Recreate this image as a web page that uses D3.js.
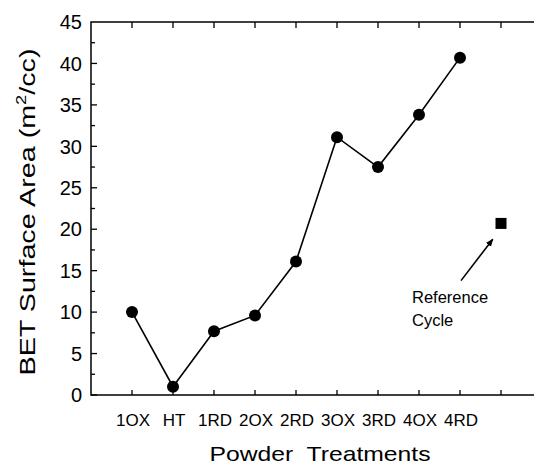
<!DOCTYPE html>
<html>
<head>
<meta charset="utf-8">
<script src="https://cdn.jsdelivr.net/npm/d3@7"></script>
<style>
  body { margin: 0; background: #fff; }
  text { font-family: "Liberation Sans", Arial, sans-serif; fill: #000; }
</style>
</head>
<body>
<div id="viz"></div>
<script>
// data
var treatments = ["1OX", "HT", "1RD", "2OX", "2RD", "3OX", "3RD", "4OX", "4RD"];
var surfaceArea = [10.0, 1.0, 7.7, 9.6, 16.1, 31.1, 27.5, 33.8, 40.7];
var refCycle = [20.7];            // the lone square, at the 10th slot
var yTicks = [0, 5, 10, 15, 20, 25, 30, 35, 40, 45];

var width = 534, height = 466;

var svg = d3.select("#viz").append("svg")
  .attr("width", width)
  .attr("height", height);

// slot -1 is the left axis, slot 10 sits just past the right edge
var x = d3.scaleLinear().domain([-1, 10]).range([91, 542]);
var y = d3.scaleLinear().domain([0, 45]).range([395, 22]);

// frame
svg.append("rect")
  .attr("x", x(-1)).attr("y", y(45))
  .attr("width", x(10) - x(-1)).attr("height", y(0) - y(45))
  .attr("fill", "none").attr("stroke", "#000").attr("stroke-width", 1.5);

// y ticks, inward, with a minor tick between labels
var yMinor = d3.range(0, 45, 2.5);
svg.selectAll(".ytick")
  .data(yMinor)
  .join("line")
  .attr("x1", x(-1))
  .attr("x2", d => x(-1) + (d % 5 === 0 ? 6 : 4))
  .attr("y1", d => y(d)).attr("y2", d => y(d))
  .attr("stroke", "#000").attr("stroke-width", 1.3);

svg.selectAll(".ylab")
  .data(yTicks)
  .join("text")
  .attr("x", 82)
  .attr("y", d => y(d))
  .attr("dy", "0.36em")
  .attr("text-anchor", "end")
  .style("font-size", "20px")
  .text(d => d);

// x ticks on top and bottom, pointing in
var slots = d3.range(0, 10);
svg.selectAll(".xb")
  .data(slots)
  .join("line")
  .attr("x1", d => x(d)).attr("x2", d => x(d))
  .attr("y1", y(0)).attr("y2", y(0) - 5)
  .attr("stroke", "#000").attr("stroke-width", 1.3);
svg.selectAll(".xt")
  .data(slots)
  .join("line")
  .attr("x1", d => x(d)).attr("x2", d => x(d))
  .attr("y1", y(45)).attr("y2", y(45) + 6)
  .attr("stroke", "#000").attr("stroke-width", 1.3);

svg.selectAll(".xlab")
  .data(treatments)
  .join("text")
  .attr("x", (d, i) => x(i) + 1)
  .attr("y", 426)
  .attr("text-anchor", "middle")
  .style("font-size", "17px")
  .text(d => d);

// axis titles
svg.append("text")
  .attr("x", 320).attr("y", 461)
  .attr("text-anchor", "middle")
  .attr("textLength", 221).attr("lengthAdjust", "spacingAndGlyphs")
  .style("font-size", "21px")
  .style("white-space", "pre")
  .text("Powder  Treatments");

var yt = svg.append("text")
  .attr("transform", "translate(35,212) rotate(-90)")
  .attr("text-anchor", "middle")
  .attr("textLength", 327).attr("lengthAdjust", "spacingAndGlyphs")
  .style("font-size", "22px");
yt.append("tspan").text("BET Surface Area (m");
yt.append("tspan").attr("dy", -9).style("font-size", "14px").text("2");
yt.append("tspan").attr("dy", 9).text("/cc)");

// line + markers
var line = d3.line()
  .x((d, i) => x(i))
  .y(d => y(d));

svg.append("path")
  .datum(surfaceArea)
  .attr("d", line)
  .attr("fill", "none")
  .attr("stroke", "#000")
  .attr("stroke-width", 1.6);

svg.selectAll(".pt")
  .data(surfaceArea)
  .join("circle")
  .attr("cx", (d, i) => x(i))
  .attr("cy", d => y(d))
  .attr("r", 6)
  .attr("fill", "#000");

svg.selectAll(".ref")
  .data(refCycle)
  .join("rect")
  .attr("x", x(9) - 5.5)
  .attr("y", d => y(d) - 5.5)
  .attr("width", 11).attr("height", 11)
  .attr("fill", "#000");

// annotation arrow
svg.append("defs").append("marker")
  .attr("id", "ah")
  .attr("viewBox", "0 0 10 10")
  .attr("refX", 9).attr("refY", 5)
  .attr("markerWidth", 5).attr("markerHeight", 5)
  .attr("markerUnits", "strokeWidth")
  .attr("orient", "auto")
  .append("path")
  .attr("d", "M0,1 L10,5 L0,9 Z")
  .attr("fill", "#000");

svg.append("line")
  .attr("x1", x(8) + 1).attr("y1", y(13.8))
  .attr("x2", x(8.8)).attr("y2", y(18.8))
  .attr("stroke", "#000").attr("stroke-width", 1.6)
  .attr("marker-end", "url(#ah)");

svg.append("text")
  .attr("x", 412).attr("y", 303)
  .style("font-size", "16.5px")
  .text("Reference");
svg.append("text")
  .attr("x", 412).attr("y", 326)
  .style("font-size", "16.5px")
  .text("Cycle");
</script>
</body>
</html>
